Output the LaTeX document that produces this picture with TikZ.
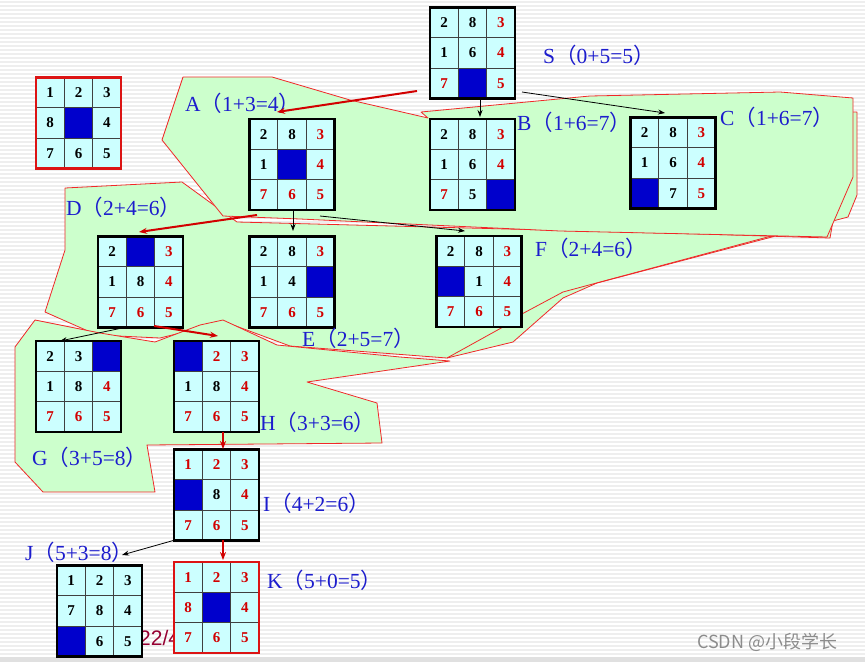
\documentclass[tikz,border=0pt]{standalone}
\usepackage{fontspec}
\setmainfont{Liberation Serif}
\newfontfamily\cjk{Noto Sans CJK SC}
\newfontfamily\sansf{Liberation Sans}
\usetikzlibrary{arrows.meta,calc}
\definecolor{cellc}{RGB}{204,255,255}
\definecolor{blankc}{RGB}{0,0,204}
\definecolor{numred}{RGB}{210,0,0}
\definecolor{labblue}{RGB}{28,28,205}
\definecolor{regfill}{RGB}{204,255,204}
\definecolor{regline}{RGB}{240,40,40}
\definecolor{arrred}{RGB}{210,0,0}
\definecolor{framered}{RGB}{220,20,20}
\definecolor{stripec}{RGB}{238,238,238}
\newcommand\lp{{\cjk （}}
\newcommand\rp{{\cjk ）}}
\newcommand\puz[4]{%
  \node[puzframe] (#1) at (#2) {};
  \foreach \v/\c [count=\i from 0] in {#4} {%
    \pgfmathtruncatemacro\row{\i/3}%
    \pgfmathtruncatemacro\col{\i-3*\row}%
    \node[cellbox,\c] at ($(#1.north west)+({(\col+0.5)*85/3},{(\row+0.5)*91/3})$) {\v};
  }
  \draw[gridline] ($(#1.north west)+(85/3,0)$) -- ($(#1.south west)+(85/3,0)$);
  \draw[gridline] ($(#1.north west)+(170/3,0)$) -- ($(#1.south west)+(170/3,0)$);
  \draw[gridline] ($(#1.north west)+(0,91/3)$) -- ($(#1.north east)+(0,91/3)$);
  \draw[gridline] ($(#1.north west)+(0,182/3)$) -- ($(#1.north east)+(0,182/3)$);
  \draw[line width=2.6pt,#3] (#1.north west) rectangle (#1.south east);
}
\begin{document}
\begin{tikzpicture}[x=1pt,y=-1pt,
  puzframe/.style={rectangle,minimum width=85pt,minimum height=91pt,inner sep=0pt,outer sep=0pt,fill=cellc},
  cellbox/.style={rectangle,minimum width=85pt/3,minimum height=91pt/3,inner sep=0pt,font=\bfseries\fontsize{15}{17}\selectfont},
  numk/.style={text=black},
  numr/.style={text=numred},
  blank/.style={fill=blankc,font=\nullfont},
  gridline/.style={draw=black!75,line width=0.8pt},
  region/.style={fill=regfill,draw=regline,line width=0.8pt,line join=round},
  lab/.style={anchor=west,inner sep=0pt,text=labblue,font=\fontsize{21.5}{25}\selectfont},
  blackarrow/.style={draw=black,line width=0.8pt,-{Stealth[length=7pt,width=5pt]}},
  redarrow/.style={draw=arrred,line width=2pt,-{Stealth[length=8pt,width=6pt]}},
  stripe/.style={draw=stripec,line width=1.6pt}]
\useasboundingbox (0,0) rectangle (865,662);
\fill[white] (0,0) rectangle (865,662);
\foreach \yy in {2,6,...,654} \draw[stripe] (0,\yy) -- (865,\yy);
\fill[black!12] (0,657) rectangle (865,662);

% regions
\filldraw[region] (65,188) -- (182,182) -- (237,222) -- (700,234) -- (830,238) -- (852,112) -- (857,112) -- (857,195) -- (848,217) -- (597,283) -- (563,298) -- (513,342) -- (447,358) -- (290,346) -- (225,322) -- (160,338) -- (97,335) -- (45,312) -- (65,250) -- cycle;
\filldraw[region] (35,320) -- (100,333) -- (155,342) -- (200,325) -- (223,320) -- (277,345) -- (400,357) -- (450,361) -- (307,382) -- (377,403) -- (382,443) -- (147,445) -- (155,492) -- (43,492) -- (15,462) -- (15,347) -- cycle;
\draw[regline,line width=0.8pt] (447,358) -- (503,327) -- (520,315) -- (563,292) -- (775,235);
\filldraw[region] (183,77) -- (272,77) -- (350,100) -- (428,118) -- (421,112) -- (590,96) -- (780,92) -- (853,98) -- (853,177) -- (827,237) -- (560,231) -- (300,219) -- (223,216) -- (162,140) -- cycle;

% text behind K
\node[anchor=west,inner sep=0pt,text={rgb,255:red,150;green,0;blue,50},font=\sansf\fontsize{21}{24}\selectfont] (pg) at (139,638) {22/4};

% puzzles
\puz{T}{78.5,123}{framered}{1/numk,2/numk,3/numk,8/numk,0/blank,4/numk,7/numk,6/numk,5/numk}
\puz{S}{472.5,53}{black}{2/numk,8/numk,3/numr,1/numk,6/numk,4/numr,7/numr,0/blank,5/numr}
\puz{A}{292,164.5}{black}{2/numk,8/numk,3/numr,1/numk,0/blank,4/numr,7/numr,6/numr,5/numr}
\puz{B}{472.5,164.5}{black}{2/numk,8/numk,3/numr,1/numk,6/numk,4/numr,7/numr,5/numk,0/blank}
\puz{C}{673,163}{black}{2/numk,8/numk,3/numr,1/numk,6/numk,4/numr,0/blank,7/numk,5/numr}
\puz{D}{140.5,282}{black}{2/numk,0/blank,3/numr,1/numk,8/numk,4/numr,7/numr,6/numr,5/numr}
\puz{E}{292,282}{black}{2/numk,8/numk,3/numr,1/numk,4/numk,0/blank,7/numr,6/numr,5/numr}
\puz{F}{479,281.5}{black}{2/numk,8/numk,3/numr,0/blank,1/numk,4/numr,7/numr,6/numr,5/numr}
\puz{G}{78.5,386.5}{black}{2/numk,3/numk,0/blank,1/numk,8/numk,4/numr,7/numr,6/numr,5/numr}
\puz{H}{216.5,386.5}{black}{0/blank,2/numr,3/numr,1/numk,8/numk,4/numr,7/numr,6/numr,5/numr}
\puz{I}{216.5,495}{black}{1/numr,2/numr,3/numr,0/blank,8/numk,4/numr,7/numr,6/numr,5/numr}
\puz{J}{99.5,611}{black}{1/numk,2/numk,3/numk,7/numk,8/numk,4/numk,0/blank,6/numk,5/numk}
\puz{K}{216.5,607.5}{framered}{1/numr,2/numr,3/numr,8/numr,0/blank,4/numr,7/numr,6/numr,5/numr}

% labels
\node[lab] (Sl) at (543,55) {S\lp0+5=5\rp};
\node[lab] (Al) at (185,103) {A\lp1+3=4\rp};
\node[lab] (Bl) at (517,122) {B\lp1+6=7\rp};
\node[lab] (Cl) at (720,117) {C\lp1+6=7\rp};
\node[lab] (Dl) at (66,207) {D\lp2+4=6\rp};
\node[lab] (El) at (302,338) {E\lp2+5=7\rp};
\node[lab] (Fl) at (535,248) {F\lp2+4=6\rp};
\node[lab] (Gl) at (32,457) {G\lp3+5=8\rp};
\node[lab] (Hl) at (260,422) {H\lp3+3=6\rp};
\node[lab] (Il) at (263,503) {I\lp4+2=6\rp};
\node[lab] (Jl) at (25,552) {J\lp5+3=8\rp};
\node[lab] (Kl) at (267,580) {K\lp5+0=5\rp};

% connector end points
\coordinate (sA) at (417,91);   \coordinate (tA) at (277,112);
\coordinate (sB) at (480,98.5); \coordinate (tB) at (480,117);
\coordinate (sC) at (522,92);   \coordinate (tC) at (665,113);
\coordinate (sD) at (257,215);  \coordinate (tD) at (139,232);
\coordinate (sE) at (293,210);  \coordinate (tE) at (293,231);
\coordinate (sF) at (320,216);  \coordinate (tF) at (465,231);
\coordinate (sG) at (127,327);  \coordinate (tG) at (60,341);
\coordinate (sH) at (154,326);  \coordinate (tH) at (218,336);
\coordinate (sI) at (223,432);  \coordinate (tI) at (223,449);
\coordinate (sJ) at (175,540);  \coordinate (tJ) at (122,555);
\coordinate (sK) at (223,540);  \coordinate (tK) at (223,560);

\draw[redarrow] (sA) -- (tA);
\draw[blackarrow] (sB) -- (tB);
\draw[blackarrow] (sC) -- (tC);
\draw[redarrow] (sD) -- (tD);
\draw[blackarrow] (sE) -- (tE);
\draw[blackarrow] (sF) -- (tF);
\draw[blackarrow] (sG) -- (tG);
\draw[redarrow] (sH) -- (tH);
\draw[redarrow] (sI) -- (tI);
\draw[blackarrow] (sJ) -- (tJ);
\draw[redarrow] (sK) -- (tK);

% watermark
\node[anchor=west,inner sep=0pt,text={rgb,255:red,140;green,140;blue,140},font=\cjk\fontsize{18}{21}\selectfont] (wm) at (697,642) {CSDN @小段学长};
\end{tikzpicture}
\end{document}
